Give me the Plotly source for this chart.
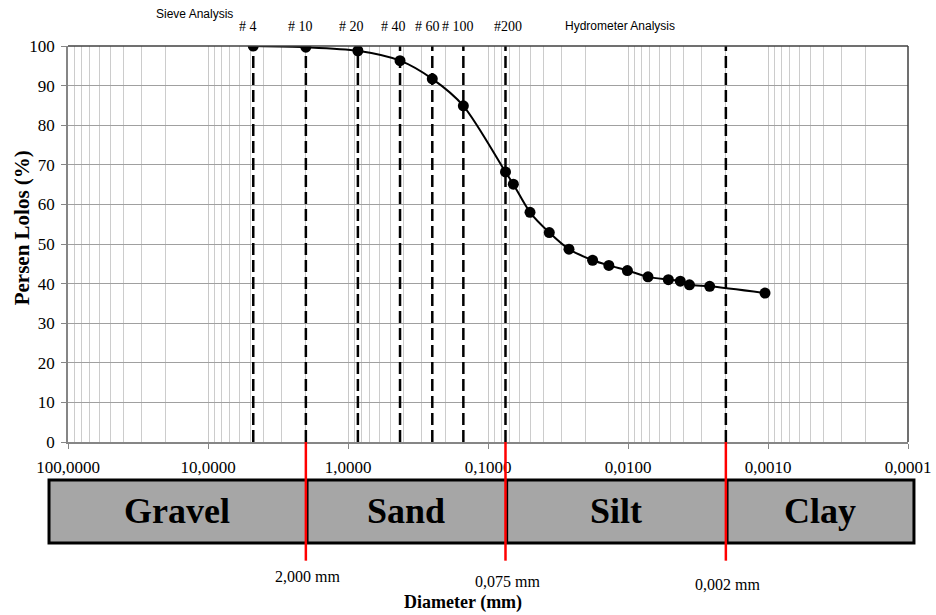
import numpy as np
import plotly.graph_objects as go

# ---------------- data ----------------
sieve_labels = ["# 4", "# 10", "# 20", "# 40", "# 60", "# 100", "#200"]
sieve_size_mm = [4.75, 2.0, 0.85, 0.425, 0.25, 0.15, 0.075]
sieve_passing = [100.0, 99.7, 98.8, 96.3, 91.7, 84.9, 68.2]

hydro_size_mm = [0.0659, 0.0501, 0.0365, 0.0264, 0.0179, 0.0137, 0.0101,
                 0.0072, 0.00515, 0.00423, 0.00364, 0.00261, 0.00105]
hydro_passing = [65.1, 58.0, 52.9, 48.7, 45.9, 44.6, 43.3,
                 41.7, 41.0, 40.6, 39.7, 39.3, 37.6]

clay_limit_mm = 0.002
soil_classes = ["Gravel", "Sand", "Silt", "Clay"]
class_bounds_mm = [2.0, 0.075, 0.002]
bound_labels = ["2,000 mm", "0,075 mm", "0,002 mm"]

x_tick_vals = [100, 10, 1, 0.1, 0.01, 0.001, 0.0001]
x_tick_text = ["100,0000", "10,0000", "1,0000", "0,1000", "0,0100", "0,0010", "0,0001"]
y_tick_vals = list(range(0, 101, 10))

# ---------------- figure ----------------
SERIF = "Liberation Serif, Times New Roman, serif"
SANS = "Liberation Sans, Arial, sans-serif"

X_LOG_MAX, X_LOG_MIN = 2, -4
minor_vals = [k * 10.0 ** e for e in range(-4, 2) for k in range(2, 10)]

diam = sieve_size_mm + hydro_size_mm
passing = sieve_passing + hydro_passing

fig = go.Figure()
fig.add_trace(go.Scatter(
    x=diam, y=passing, mode="lines+markers",
    line=dict(color="black", width=2, shape="spline", smoothing=0.8),
    marker=dict(color="black", size=11),
    showlegend=False, hoverinfo="x+y",
))

shapes = []
# dashed vertical sieve / clay lines
for d in sieve_size_mm + [clay_limit_mm]:
    shapes.append(dict(type="line", xref="x", yref="y", x0=d, x1=d, y0=0, y1=100,
                       line=dict(color="black", width=2.5, dash="12px,5px"),
                       layer="between"))


def xpaper(v):
    return (X_LOG_MAX - np.log10(v)) / (X_LOG_MAX - X_LOG_MIN)


# top and right frame
shapes.append(dict(type="line", xref="paper", yref="paper", x0=0, x1=1, y0=1, y1=1,
                   line=dict(color="#404040", width=1.5)))
shapes.append(dict(type="line", xref="paper", yref="paper", x0=1, x1=1, y0=0, y1=1,
                   line=dict(color="#404040", width=1.5)))

# soil class box
box_l, box_r, box_t, box_b = -0.0226, 1.0071, -0.096, -0.255
shapes.append(dict(type="rect", xref="paper", yref="paper", x0=box_l, x1=box_r,
                   y0=box_b, y1=box_t, fillcolor="#a6a6a6",
                   line=dict(color="black", width=3)))
for b in class_bounds_mm:
    xp = xpaper(b)
    shapes.append(dict(type="line", xref="paper", yref="paper", x0=xp + 0.002, x1=xp + 0.002,
                       y0=box_b, y1=box_t, line=dict(color="black", width=2)))
for b in class_bounds_mm:
    xp = xpaper(b)
    shapes.append(dict(type="line", xref="paper", yref="paper", x0=xp, x1=xp,
                       y0=0, y1=-0.2997, line=dict(color="#ff0000", width=2.5)))

annotations = []
edges = [box_l] + [xpaper(b) for b in class_bounds_mm] + [box_r]
for i, name in enumerate(soil_classes):
    annotations.append(dict(xref="paper", yref="paper", x=(edges[i] + edges[i + 1]) / 2,
                            y=(box_t + box_b) / 2, text="<b>%s</b>" % name, showarrow=False,
                            font=dict(family=SERIF, size=36, color="black"),
                            xanchor="center", yanchor="middle"))
label_y = [-0.3385, -0.3535, -0.359]
for b, t, yy in zip(class_bounds_mm, bound_labels, label_y):
    annotations.append(dict(xref="paper", yref="paper", x=xpaper(b), y=yy, text=t,
                            showarrow=False, font=dict(family=SERIF, size=16, color="black"),
                            xanchor="center", yanchor="middle", xshift=2))
annotations.append(dict(xref="paper", yref="paper", x=xpaper(0.075) - 0.05, y=-0.4047,
                        text="<b>Diameter (mm)</b>", showarrow=False,
                        font=dict(family=SERIF, size=18, color="black"),
                        xanchor="center", yanchor="middle"))
annotations.append(dict(xref="paper", yref="paper", x=-0.0548, y=0.542,
                        text="<b>Persen Lolos (%)</b>", showarrow=False, textangle=-90,
                        font=dict(family=SERIF, size=21, color="black"),
                        xanchor="center", yanchor="middle"))

# sieve labels on top
label_shift = [-5, -5, -6, -7, -5, -5, 3]
for d, t, s in zip(sieve_size_mm, sieve_labels, label_shift):
    annotations.append(dict(xref="x", yref="paper", x=np.log10(d), y=1.048, text=t,
                            showarrow=False, font=dict(family=SERIF, size=14, color="black"),
                            xanchor="center", yanchor="middle", xshift=s))
annotations.append(dict(xref="paper", yref="paper", x=xpaper(2.0) - 0.133, y=1.081,
                        text="Sieve Analysis", showarrow=False,
                        font=dict(family=SANS, size=12, color="black"),
                        xanchor="center", yanchor="middle"))
annotations.append(dict(xref="paper", yref="paper", x=0.657, y=1.0505,
                        text="Hydrometer Analysis", showarrow=False,
                        font=dict(family=SANS, size=12, color="black"),
                        xanchor="center", yanchor="middle"))

fig.update_layout(
    width=936, height=615,
    margin=dict(l=68, r=28, t=46, b=173, autoexpand=False),
    paper_bgcolor="white", plot_bgcolor="white",
    shapes=shapes, annotations=annotations,
    xaxis=dict(type="log", range=[X_LOG_MAX, X_LOG_MIN], automargin=False,
               tickvals=x_tick_vals, ticktext=x_tick_text,
               tickfont=dict(family=SERIF, size=17, color="black"),
               showgrid=True, gridcolor="#c8c8c8", gridwidth=1,
               minor=dict(tickmode="array", tickvals=minor_vals, showgrid=True,
                          gridcolor="#cccccc", gridwidth=1, ticks=""),
               showline=True, linecolor="#868686", linewidth=1.5,
               ticks="outside", ticklen=5, tickcolor="#868686",
               ticklabelstandoff=4, zeroline=False),
    yaxis=dict(range=[0, 100], tickvals=y_tick_vals, automargin=False,
               tickfont=dict(family=SERIF, size=17, color="black"),
               showgrid=True, gridcolor="#a0a0a0", gridwidth=1,
               showline=True, linecolor="#868686", linewidth=1.5,
               ticks="outside", ticklen=5, tickcolor="#868686",
               ticklabelstandoff=3, zeroline=False),
)

fig.write_html("out.html")
